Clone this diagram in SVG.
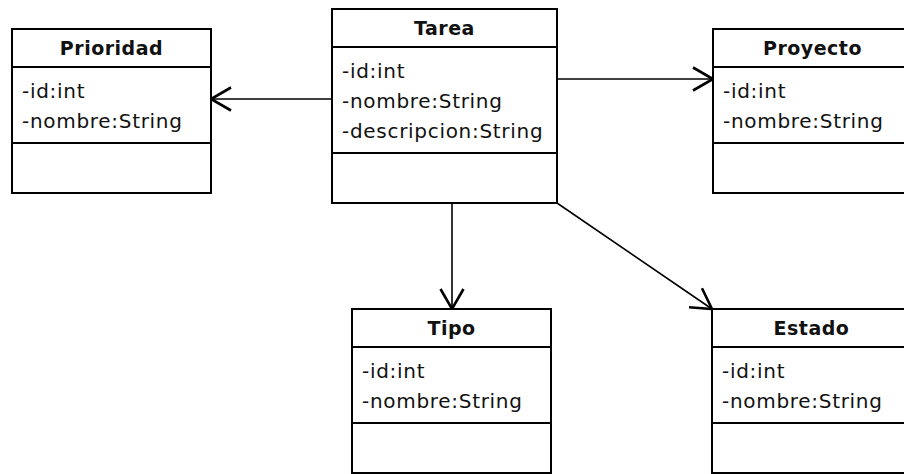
<svg xmlns="http://www.w3.org/2000/svg" width="904" height="474" viewBox="0 0 904 474">
  <style>
    .box { fill: #ffffff; stroke: #000000; stroke-width: 2; }
    .sep { stroke: #000000; stroke-width: 2; }
    .title { font-family: "DejaVu Sans", "Liberation Sans", sans-serif; font-weight: bold; font-size: 19px; letter-spacing: 0.5px; fill: #111111; text-anchor: middle; }
    .attr { font-family: "DejaVu Sans", "Liberation Sans", sans-serif; font-size: 20px; letter-spacing: 0.7px; fill: #111111; }
    .edge { stroke: #000000; stroke-width: 1.6; fill: none; }
  </style>
  <defs>
    <marker id="open-arrow" markerUnits="userSpaceOnUse" markerWidth="30" markerHeight="30" viewBox="-24 -15 28 30" refX="0" refY="0" orient="auto">
      <path d="M-20,-11.5 L0,0 L-20,11.5" fill="none" stroke="#000000" stroke-width="2.6"/>
    </marker>
  </defs>
  <rect width="904" height="474" fill="#ffffff"/>

  <!-- associations from Tarea -->
  <g id="connectors">
    <line class="edge" x1="332" y1="99" x2="211" y2="99" marker-end="url(#open-arrow)"/>
    <line class="edge" x1="557" y1="79" x2="713" y2="79" marker-end="url(#open-arrow)"/>
    <line class="edge" x1="452" y1="203" x2="452" y2="309" marker-end="url(#open-arrow)"/>
    <line class="edge" x1="557" y1="203" x2="712" y2="309" marker-end="url(#open-arrow)"/>
  </g>

  <g id="prioridad">
    <rect class="box" x="12" y="29" width="199" height="164"/>
    <line class="sep" x1="12" y1="67" x2="211" y2="67"/>
    <line class="sep" x1="12" y1="143" x2="211" y2="143"/>
    <text class="title" x="111.5" y="55">Prioridad</text>
    <text class="attr" x="22" y="98">-id:int</text>
    <text class="attr" x="22" y="128">-nombre:String</text>
  </g>

  <g id="tarea">
    <rect class="box" x="332" y="9" width="225" height="194"/>
    <line class="sep" x1="332" y1="47" x2="557" y2="47"/>
    <line class="sep" x1="332" y1="153" x2="557" y2="153"/>
    <text class="title" x="444.5" y="35">Tarea</text>
    <text class="attr" x="342" y="78">-id:int</text>
    <text class="attr" x="342" y="108">-nombre:String</text>
    <text class="attr" x="342" y="138">-descripcion:String</text>
  </g>

  <g id="proyecto">
    <rect class="box" x="713" y="29" width="199" height="164"/>
    <line class="sep" x1="713" y1="67" x2="912" y2="67"/>
    <line class="sep" x1="713" y1="143" x2="912" y2="143"/>
    <text class="title" x="812.5" y="55">Proyecto</text>
    <text class="attr" x="723" y="98">-id:int</text>
    <text class="attr" x="723" y="128">-nombre:String</text>
  </g>

  <g id="tipo">
    <rect class="box" x="352" y="309" width="199" height="164"/>
    <line class="sep" x1="352" y1="347" x2="551" y2="347"/>
    <line class="sep" x1="352" y1="423" x2="551" y2="423"/>
    <text class="title" x="451.5" y="335">Tipo</text>
    <text class="attr" x="362" y="378">-id:int</text>
    <text class="attr" x="362" y="408">-nombre:String</text>
  </g>

  <g id="estado">
    <rect class="box" x="712" y="309" width="199" height="164"/>
    <line class="sep" x1="712" y1="347" x2="911" y2="347"/>
    <line class="sep" x1="712" y1="423" x2="911" y2="423"/>
    <text class="title" x="811.5" y="335">Estado</text>
    <text class="attr" x="722" y="378">-id:int</text>
    <text class="attr" x="722" y="408">-nombre:String</text>
  </g>
</svg>
